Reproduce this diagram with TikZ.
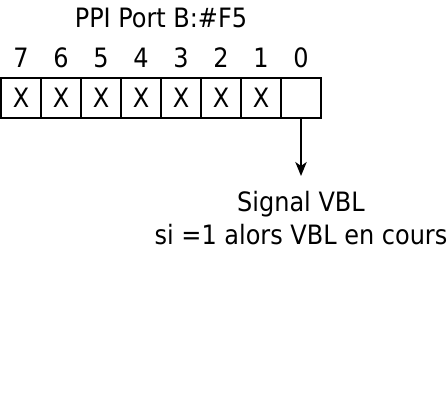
\documentclass[tikz,border=0pt]{standalone}
\usepackage{fontspec}
\setmainfont{DejaVu Sans Condensed}
\usetikzlibrary{arrows.meta}
\begin{document}
\begin{tikzpicture}[x=0.75pt,y=-0.75pt,
  txt/.style={anchor=base,inner sep=0pt,font=\fontsize{20}{24}\selectfont},
  cell/.style={draw,line width=1.5pt,minimum width=40*0.75pt,minimum height=40*0.75pt,inner sep=0pt,outer sep=0pt,anchor=north west},
  conn/.style={line width=1.5pt,-{Stealth[length=10.5pt,width=8.5pt,inset=3pt]}}]
\useasboundingbox (0,0) rectangle (448,414);
\node[txt] (title) at (161,27) {PPI Port B:\#F5};
\foreach \b [count=\k from 0] in {7,6,5,4,3,2,1,0} {
  \node[txt] (d\b) at (21+40*\k,67) {\b};
}
\foreach \b [count=\k from 0] in {7,6,5,4,3,2,1} {
  \node[cell] (c\b) at (1+40*\k,78) {};
  \node[txt] (x\b) at (21+40*\k,107) {X};
}
\node[cell] (c0) at (281,78) {};
\coordinate (tip) at (c0.south |- 0,176);
\draw[conn] (c0.south) -- (tip);
\node[txt] (sig) at (301,211) {Signal VBL};
\node[txt] (si) at (301,244) {si =1 alors VBL en cours};
\end{tikzpicture}
\end{document}
